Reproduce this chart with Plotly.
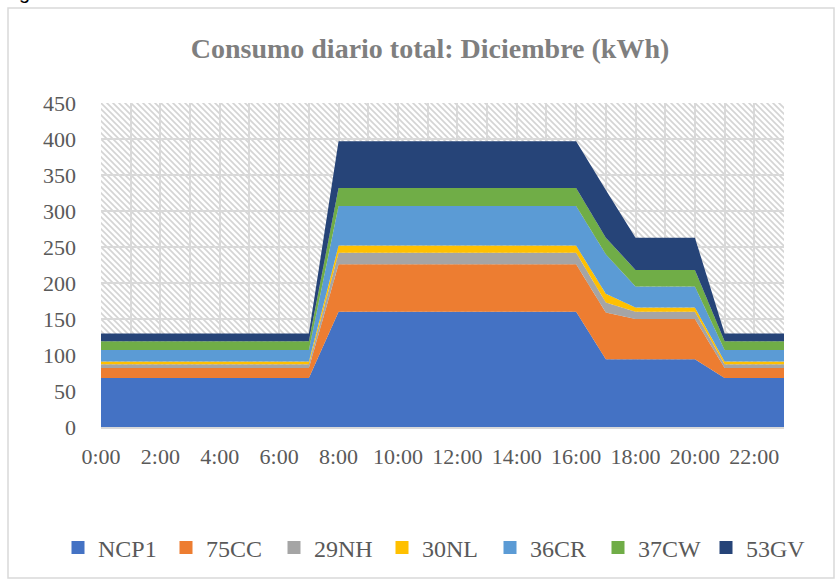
import base64
import plotly.graph_objects as go

hours = list(range(24))
hour_labels = [f"{h}:00" for h in hours]

NCP1 = [68] * 8 + [160] * 9 + [94, 94, 94, 94] + [68, 68, 68]
CC75 = [14] * 8 + [66] * 9 + [65, 56, 56, 56] + [14, 14, 14]
NH29 = [5] * 8 + [16] * 9 + [14, 10, 10, 10] + [5, 5, 5]
NL30 = [4] * 8 + [10] * 9 + [12, 6, 6, 6] + [4, 4, 4]
CR36 = [16] * 8 + [55] * 9 + [55, 29, 29, 29] + [16, 16, 16]
CW37 = [12] * 8 + [25] * 9 + [23, 23, 23, 23] + [12, 12, 12]
GV53 = [11] * 8 + [65] * 9 + [66, 45, 45, 45] + [11, 11, 11]

series_names = ["NCP1", "75CC", "29NH", "30NL", "36CR", "37CW", "53GV"]
series_values = [NCP1, CC75, NH29, NL30, CR36, CW37, GV53]
colors = ["#4472C4", "#ED7D31", "#A5A5A5", "#FFC000", "#5B9BD5", "#70AD47", "#264478"]

y_ticks = list(range(0, 451, 50))

W, H = 835, 579
L, R, T, B = 101, 51, 103, 152
pw, ph = W - L - R, H - T - B

FONT = "Liberation Serif"
GRAY = "#595959"

fig = go.Figure()
for name, vals, col in zip(series_names, series_values, colors):
    fig.add_trace(go.Scatter(
        x=hours, y=vals, name=name, stackgroup="one", mode="lines",
        line=dict(width=0, color=col), fillcolor=col, showlegend=False,
        hoverinfo="skip"))
for name, col in zip(series_names, colors):
    fig.add_trace(go.Scatter(
        x=[None], y=[None], name=name, mode="markers",
        marker=dict(symbol="square", size=13, color=col)))

# hatch background
svg = f'''<svg xmlns="http://www.w3.org/2000/svg" width="{pw}" height="{ph}">
<defs><pattern id="p" patternUnits="userSpaceOnUse" width="6" height="6">
<rect width="6" height="6" fill="white"/>
<path d="M-1,-1 L7,7 M-1,5 L1,7 M5,-1 L7,1" stroke="#d4d4d4" stroke-width="1.6"/>
</pattern></defs>
<rect width="{pw}" height="{ph}" fill="url(#p)"/></svg>'''
src = "data:image/svg+xml;base64," + base64.b64encode(svg.encode()).decode()
fig.add_layout_image(dict(source=src, xref="paper", yref="paper", x=0, y=1,
                          sizex=1, sizey=1, sizing="stretch", layer="below",
                          xanchor="left", yanchor="top"))

# outer chart border
fig.add_shape(type="rect", xref="paper", yref="paper",
              x0=(8 - L) / pw, x1=(834 - L) / pw,
              y0=(H - B - 578) / ph, y1=(H - B - 8) / ph,
              line=dict(color="#d9d9d9", width=1.5), fillcolor="rgba(0,0,0,0)")

fig.update_layout(
    width=W, height=H,
    margin=dict(l=L, r=R, t=T, b=B, autoexpand=False),
    paper_bgcolor="white", plot_bgcolor="white",
    title=dict(text="<b>Consumo diario total: Diciembre (kWh)</b>",
               font=dict(family=FONT, size=28, color="#7f7f7f"),
               x=(430 - L) / pw, xref="paper", xanchor="center",
               y=1 - 48 / H, yref="container", yanchor="middle"),
    legend=dict(orientation="h", xref="paper", yref="paper",
                x=(58 - L) / pw, xanchor="left",
                y=(H - B - 548) / ph, yanchor="middle",
                bgcolor="rgba(0,0,0,0)",
                font=dict(family=FONT, size=24, color=GRAY),
                itemwidth=30, traceorder="normal",
                entrywidth=63, entrywidthmode="pixels"),
    xaxis=dict(range=[0, 23], tickvals=hours,
               ticktext=[lab if h % 2 == 0 else "" for h, lab in zip(hours, hour_labels)],
               showgrid=True, gridcolor="#d9d9d9", gridwidth=2,
               zeroline=False, showline=True, linecolor="#d9d9d9", linewidth=2,
               ticks="", ticklabelstandoff=9,
               tickfont=dict(family=FONT, size=22, color=GRAY)),
    yaxis=dict(range=[0, 450], tickvals=y_ticks,
               showgrid=True, gridcolor="#d9d9d9", gridwidth=2,
               zeroline=False, showline=False, ticks="", ticklabelstandoff=24,
               tickfont=dict(family=FONT, size=22, color=GRAY)),
    annotations=[dict(text="g", xref="paper", yref="paper",
                      x=(24 - L) / pw, y=(H - B + 8) / ph, xanchor="center",
                      yanchor="middle", showarrow=False,
                      font=dict(family="Liberation Sans", size=20, color="black"))],
)

fig.write_html("out.html", config={"displayModeBar": False},
               post_script="document.body.style.margin='0';")
